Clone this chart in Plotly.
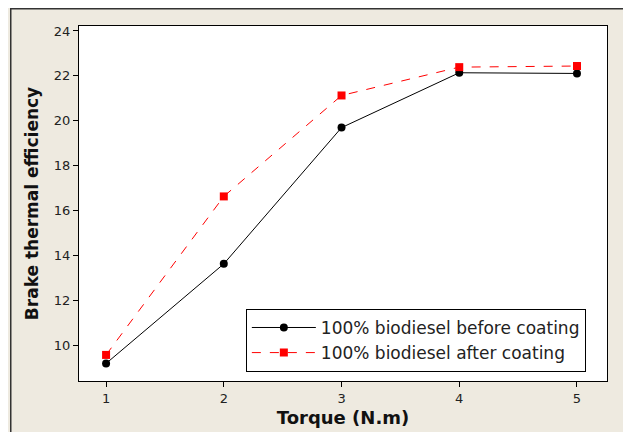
import plotly.graph_objects as go

torque = [1, 2, 3, 4, 5]
before_coating = [9.21, 13.64, 19.70, 22.14, 22.11]
after_coating = [9.59, 16.64, 21.13, 22.39, 22.44]
y_ticks = [10, 12, 14, 16, 18, 20, 22, 24]

fig = go.Figure()
fig.add_trace(go.Scatter(
    x=torque, y=before_coating, mode="lines+markers",
    name="100% biodiesel before coating",
    line=dict(color="black", width=1),
    marker=dict(symbol="circle", size=8, color="black"),
))
fig.add_trace(go.Scatter(
    x=torque, y=after_coating, mode="lines+markers",
    name="100% biodiesel after coating",
    line=dict(color="#ff0000", width=1, dash="dash"),
    marker=dict(symbol="square", size=8, color="#ff0000"),
))

PW, PH = 528, 355
fig.update_layout(
    width=631, height=432,
    margin=dict(l=71, r=32, t=18, b=59),
    paper_bgcolor="#EEEAE0",
    plot_bgcolor="white",
    font=dict(family="DejaVu Sans", color="#222222", size=13),
    showlegend=True,
    legend=dict(
        x=0.316, y=0.203, xanchor="left", yanchor="top",
        bgcolor="white", bordercolor="black", borderwidth=1,
        font=dict(size=17, family="DejaVu Sans", color="#222222"),
        itemwidth=64, tracegroupgap=0,
    ),
    xaxis=dict(
        range=[0.77, 5.255], tickvals=torque, ticktext=[str(t) for t in torque],
        showgrid=False, zeroline=False, showline=True, mirror=True,
        linecolor="black", linewidth=1, ticks="outside", ticklen=5,
        tickcolor="black", automargin=False,
        title=dict(text="<b>Torque (N.m)</b>", font=dict(size=18, color="#111111"), standoff=6),
    ),
    yaxis=dict(
        range=[8.43, 24.22], tickvals=y_ticks,
        showgrid=False, zeroline=False, showline=True, mirror=True,
        linecolor="black", linewidth=1, ticks="outside", ticklen=5,
        tickcolor="black", automargin=False,
        title=dict(text="<b>Brake thermal efficiency</b>", font=dict(size=17, color="#111111"), standoff=10),
    ),
    shapes=[
        dict(type="rect", xref="paper", yref="paper",
             x0=(2.75 - 71) / PW, x1=1.2, y0=-0.3, y1=(373 - 0.75) / PH,
             line=dict(color="#333333", width=1.5), fillcolor="rgba(0,0,0,0)",
             layer="below"),
    ],
)

fig.write_html("out.html", post_script="document.body.style.overflow='hidden';")
